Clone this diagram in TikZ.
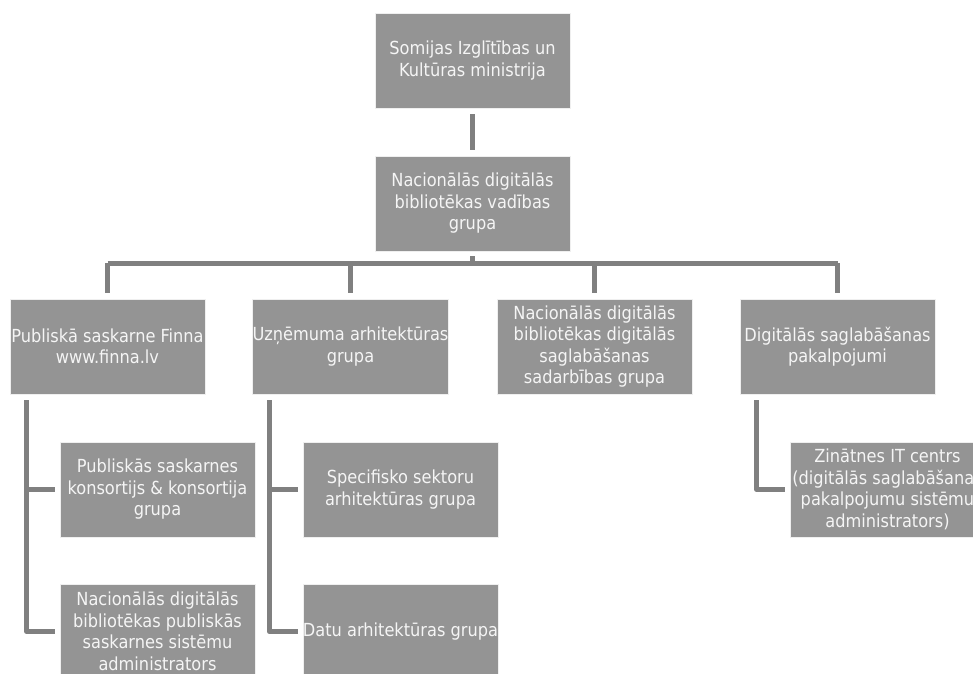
\documentclass[tikz,border=0pt]{standalone}
\usepackage{fontspec}
\setmainfont{DejaVu Sans Condensed}
\usetikzlibrary{positioning}

\definecolor{boxgray}{RGB}{148,148,148}
\definecolor{linkgray}{RGB}{128,128,128}

\begin{document}
\begin{tikzpicture}[x=1pt,y=-1pt,
    unit/.style={fill=boxgray,draw=white!85!boxgray,line width=0.6pt,
        minimum width=195pt,minimum height=95pt,inner sep=0pt,
        align=center,text=white!96!black,font=\fontsize{18}{21.5}\selectfont},
    link/.style={draw=linkgray,line width=5pt,line join=round}]
    % page frame
    \useasboundingbox (0,0) rectangle (973,673);
    \clip (0,0) rectangle (973,673);

    % Top two levels:
    \node [unit] (ministry) at (472.5,60.5) {Somijas Izglītības un\\Kultūras ministrija};
    \node [unit] (board)    at (472.5,203.5) {Nacionālās digitālās\\bibliotēkas vadības\\grupa};

    % Groups under the board:
    \node [unit] (finna)  at (107.5,346.5) {Publiskā saskarne Finna\\www.finna.lv};
    \node [unit] (arch)   at (350.5,346.5) {Uzņēmuma arhitektūras\\grupa};
    \node [unit] (coop)   at (594.5,346.5) {Nacionālās digitālās\\bibliotēkas digitālās\\saglabāšanas\\sadarbības grupa};
    \node [unit] (preserv) at (837.5,346.5) {Digitālās saglabāšanas\\pakalpojumi};

    % Subgroups:
    \node [unit] (consort) at (157.5,489.5) {Publiskās saskarnes\\konsortijs \& konsortija\\grupa};
    \node [unit] (sysadm)  at (157.5,631.5) {Nacionālās digitālās\\bibliotēkas publiskās\\saskarnes sistēmu\\administrators};
    \node [unit] (sector)  at (400.5,489.5) {Specifisko sektoru\\arhitektūras grupa};
    \node [unit] (data)    at (400.5,631.5) {Datu arhitektūras grupa};
    \node [unit] (csc)     at (887.5,489.5) {Zinātnes IT centrs\\(digitālās saglabāšanas\\pakalpojumu sistēmu\\administrators)};

    % Vertical links and the bus bar:
    \coordinate (bus) at (472.5,263);
    \draw [link,shorten <=6pt,shorten >=6pt] (ministry) -- (board);
    \draw [link,shorten <=5pt] (board) -- (board |- bus);
    \draw [link] (finna |- bus) -- (preserv |- bus);
    \foreach \g in {finna,arch,coop,preserv}
        \draw [link,shorten >=6pt] (\g |- bus) -- (\g);

    % Elbow links to the subgroups:
    \foreach \p/\c in {finna/consort,finna/sysadm,arch/sector,arch/data,preserv/csc}
        \draw [link,shorten <=6pt,shorten >=5pt] ([xshift=17pt]\p.south west) |- (\c.west);
\end{tikzpicture}
\end{document}
